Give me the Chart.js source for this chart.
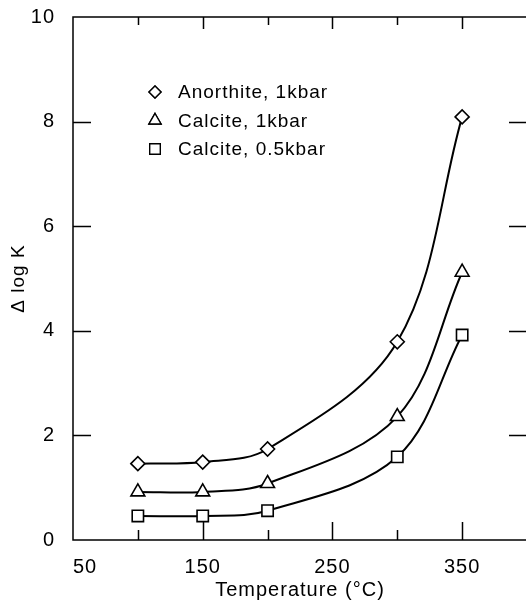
<!DOCTYPE html>
<html>
<head>
<meta charset="utf-8">
<script src="https://cdn.jsdelivr.net/npm/chart.js@4/dist/chart.umd.min.js"></script>
<style>
  html, body { margin: 0; padding: 0; background: #fff; overflow: hidden; }
</style>
</head>
<body>
<canvas id="chart" width="528" height="605"></canvas>
<script>
const temps = [100, 150, 200, 300, 350];
const anorthite1kbar = [1.46, 1.49, 1.74, 3.79, 8.09];
const calcite1kbar = [0.92, 0.92, 1.08, 2.36, 5.12];
const calcite05kbar = [0.46, 0.46, 0.56, 1.59, 3.92];
const seriesNames = ['Anorthite, 1kbar', 'Calcite, 1kbar', 'Calcite, 0.5kbar'];
const xTickLabels = [50, 150, 250, 350];
const yTickLabels = [0, 2, 4, 6, 8, 10];

const FONT = 'Liberation Sans, Arial, sans-serif';

function pts(vals) {
  return temps.map((t, i) => ({ x: t, y: vals[i] }));
}

function series(label, vals, style, radius) {
  return {
    label: label,
    data: pts(vals),
    borderColor: '#000',
    borderWidth: 2,
    tension: 0.35,
    pointStyle: style,
    pointRadius: radius,
    pointBackgroundColor: '#fff',
    pointBorderColor: '#000',
    pointBorderWidth: 1.6,
    clip: false
  };
}

// loose letter spacing for all text (context state is reset on resize)
const spacingPlugin = {
  id: 'spacing',
  beforeDraw(c) { c.ctx.letterSpacing = '1px'; }
};

// frame, inward tick marks and the in-plot legend
const framePlugin = {
  id: 'frame',
  afterDatasetsDraw(c) {
    const ctx = c.ctx;
    const a = c.chartArea;
    const xs = c.scales.x;
    const ys = c.scales.y;
    ctx.save();
    ctx.strokeStyle = '#000';
    ctx.lineWidth = 1.5;
    ctx.strokeRect(a.left, a.top, a.right - a.left, a.bottom - a.top);

    // x ticks, bottom and top; labelled ones are longer
    ctx.beginPath();
    [100, 150, 200, 250, 300, 350].forEach(v => {
      const px = Math.round(xs.getPixelForValue(v)) + 0.5;
      const major = xTickLabels.indexOf(v) >= 0;
      ctx.moveTo(px, a.bottom);
      ctx.lineTo(px, a.bottom - (major ? 18 : 10));
      ctx.moveTo(px, a.top);
      ctx.lineTo(px, a.top + (major ? 12 : 8));
    });
    ctx.stroke();

    // y ticks, left and right
    ctx.beginPath();
    yTickLabels.forEach(v => {
      if (v === 0 || v === 10) return;
      const py = Math.round(ys.getPixelForValue(v)) + 0.5;
      ctx.moveTo(a.left, py);
      ctx.lineTo(a.left + 18, py);
      ctx.moveTo(a.right, py);
      ctx.lineTo(a.right - 18, py);
    });
    ctx.stroke();

    // legend
    const lx = a.left + 82;
    const radii = [6, 7, 7.5];
    ctx.font = '19px ' + FONT;
    ctx.textBaseline = 'middle';
    c.data.datasets.forEach((ds, i) => {
      const ly = a.top + 75 + i * 28.5;
      ctx.lineWidth = 1.4;
      ctx.fillStyle = '#fff';
      ctx.strokeStyle = '#000';
      ctx.beginPath();
      Chart.helpers.drawPoint(ctx, { pointStyle: ds.pointStyle, radius: radii[i], rotation: 0, borderWidth: 1.4 }, lx, ly);
      ctx.fill();
      ctx.stroke();
      ctx.fillStyle = '#000';
      ctx.fillText(ds.label, lx + 23, ly + 1);
    });
    ctx.restore();
  }
};

const chart = new Chart(document.getElementById('chart'), {
  type: 'line',
  data: {
    datasets: [
      series(seriesNames[0], anorthite1kbar, 'rectRot', 7),
      series(seriesNames[1], calcite1kbar, 'triangle', 8),
      series(seriesNames[2], calcite05kbar, 'rect', 8)
    ]
  },
  options: {
    responsive: false,
    animation: false,
    layout: { autoPadding: false, padding: { top: 17, right: 1, left: 0, bottom: 0 } },
    plugins: {
      legend: { display: false },
      tooltip: { enabled: false }
    },
    scales: {
      x: {
        type: 'linear',
        min: 50,
        max: 400,
        grid: { display: false },
        border: { display: false },
        afterFit(s) { s.height = 65; s.paddingLeft = 0; s.paddingRight = 0; },
        ticks: {
          stepSize: 50,
          autoSkip: false,
          maxRotation: 0,
          align: 'inner',
          padding: 7,
          color: '#000',
          font: { family: FONT, size: 20 },
          callback: v => xTickLabels.includes(v) ? String(v) : ''
        },
        title: {
          display: true,
          text: 'Temperature (°C)',
          color: '#000',
          font: { family: FONT, size: 20 },
          padding: { top: 0, bottom: 3 }
        }
      },
      y: {
        min: 0,
        max: 10,
        grid: { display: false },
        border: { display: false },
        afterFit(s) { s.width = 73; s.paddingTop = 0; s.paddingBottom = 0; },
        ticks: {
          stepSize: 2,
          padding: 10,
          color: '#000',
          font: { family: FONT, size: 20 },
          callback: v => yTickLabels.includes(v) ? String(v) : ''
        },
        title: {
          display: true,
          text: '\u0394 log K',
          color: '#000',
          font: { family: FONT, size: 19 },
          padding: { top: 7, bottom: 0 }
        }
      }
    }
  },
  plugins: [spacingPlugin, framePlugin]
});
</script>
</body>
</html>
